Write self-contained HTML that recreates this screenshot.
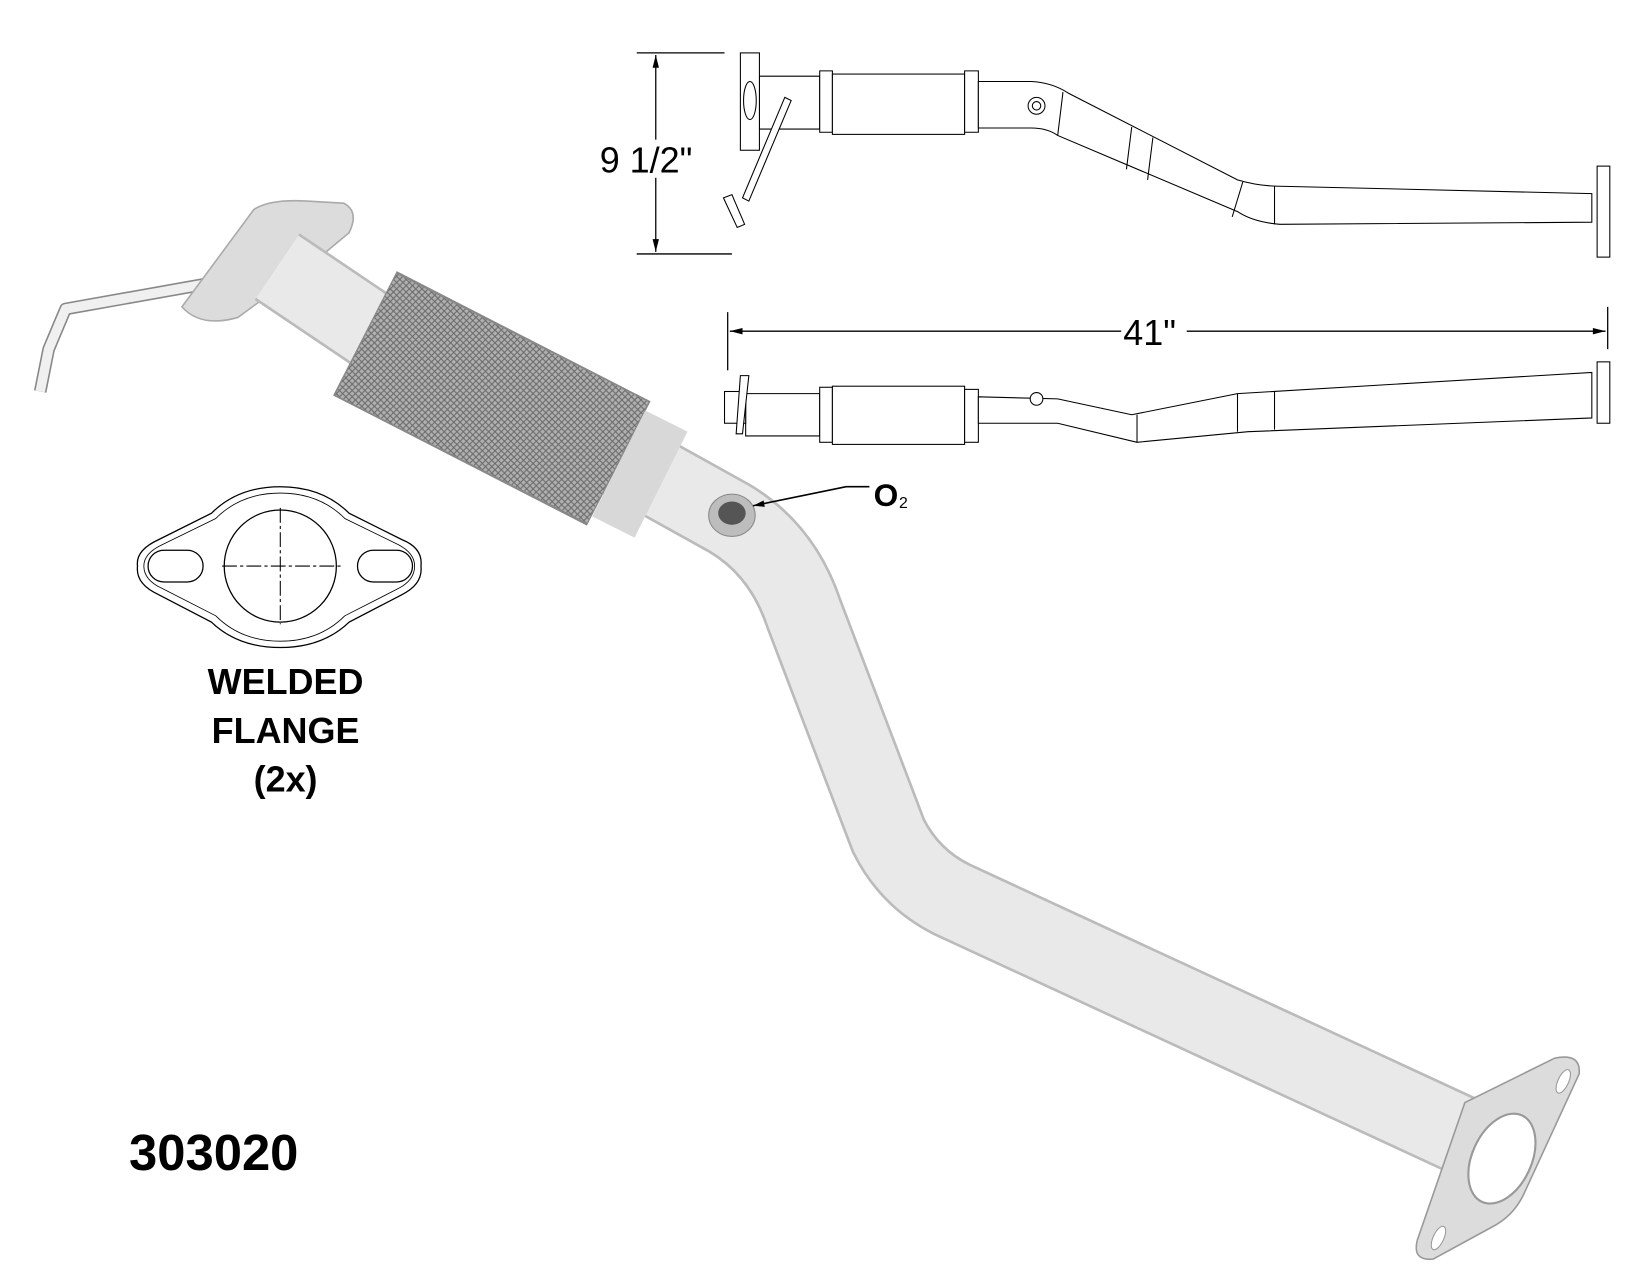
<!DOCTYPE html>
<html><head><meta charset="utf-8"><style>
html,body{margin:0;padding:0;background:#fff;width:1650px;height:1275px;overflow:hidden}
svg{display:block}
text{font-family:"Liberation Sans",Arial,sans-serif}
</style></head><body>
<svg width="1650" height="1275" viewBox="0 0 1560 1205" preserveAspectRatio="none" xmlns="http://www.w3.org/2000/svg">
<defs>
<pattern id="mesh" width="6" height="6" patternUnits="userSpaceOnUse">
<rect width="6" height="6" fill="#b0b0b0"/>
<path d="M0 0L6 6M6 0L0 6" stroke="#6a6a6a" stroke-width="1"/>
</pattern>
</defs>
<!-- dimension 9 1/2 -->
<g stroke="#000" stroke-width="1.2" fill="none">
<line x1="602" y1="50" x2="685" y2="50"/>
<line x1="602" y1="240" x2="692" y2="240"/>
<line x1="620" y1="52" x2="620" y2="238"/>
</g>
<path d="M620 52l-3 12h6zM620 238l-3-12h6z" fill="#000"/>
<rect x="568" y="132" width="96" height="36" fill="#fff"/>
<text x="567" y="163" font-size="34">9 1/2"</text>
<!-- top view pipe -->
<g stroke="#000" stroke-width="1" fill="#fff">
<path d="M718 72L775 72 775 122 718 122z"/>
<path d="M775 67h12v58h-12z"/>
<rect x="787" y="70" width="125" height="57"/>
<path d="M912 67h13v58h-13z"/>
<path d="M925 77 L975 77 Q995 78 1010 88 L1170 170 Q1190 176 1210 176 L1505 183 L1505 210 L1210 212 Q1185 210 1170 200 L1000 128 Q990 121 975 121 L925 121 Z"/>
<path d="M1005 87 L1000 128 M1070 120 L1065 160 M1090 130 L1085 170 M1175 172 L1165 205 M1205 176 L1205 212"/>
<rect x="1510" y="157" width="12" height="86"/>
<rect x="700" y="50" width="18" height="92"/>
<ellipse cx="709" cy="95" rx="6" ry="18"/>
<path d="M742 92L748 95 708 190 702 187z"/>
<path d="M684 187l8-3 12 28-7 3z"/>
<circle cx="980" cy="100" r="8"/><circle cx="980" cy="100" r="4"/>
</g>
<!-- 41 dim -->
<g stroke="#000" stroke-width="1.2">
<line x1="688" y1="295" x2="688" y2="350"/>
<line x1="1520" y1="290" x2="1520" y2="330"/>
<line x1="690" y1="313" x2="1060" y2="313"/>
<line x1="1122" y1="313" x2="1518" y2="313"/>
</g>
<path d="M690 313l12-3v6zM1518 313l-12-3v6z" fill="#000"/>
<text x="1062" y="326" font-size="34">41"</text>
<!-- side view -->
<g stroke="#000" stroke-width="1" fill="#fff">
<path d="M705 372h70v40h-70z"/>
<rect x="775" y="366" width="12" height="52"/>
<rect x="787" y="365" width="125" height="55"/>
<rect x="912" y="368" width="13" height="50"/>
<path d="M925 375L1000 377 1070 392 1170 372 1505 352 1505 395 1180 408 1075 418 1000 400 925 400z"/>
<path d="M1075 392 L1075 418 M1170 372 L1170 408 M1205 370 L1205 406"/>
<rect x="1510" y="342" width="12" height="58"/>
<rect x="685" y="370" width="20" height="30"/>
<path d="M700 355h8l-6 55h-6z"/>
<circle cx="980" cy="377" r="6"/>
</g>
<!-- rod top-left -->
<path d="M38 370L46 330 62 292 315 247" stroke="#888" stroke-width="12" fill="none" stroke-linejoin="round"/>
<path d="M38 370L46 330 62 292 315 247" stroke="#f0f0f0" stroke-width="9" fill="none" stroke-linejoin="round"/>
<!-- top flange -->
<path d="M172 290L240 198 Q255 188 290 190 L325 192 Q340 200 330 220 L300 245 225 300 Q190 310 172 290z" fill="#dcdcdc" stroke="#aaa" stroke-width="1.5"/>
<!-- main pipe -->
<path d="M262 252L360 318 L600 440 L690 490 Q740 520 760 580 L840 790 Q860 830 900 850 L1430 1095" stroke="#bbb" stroke-width="76" fill="none" stroke-linejoin="round"/>
<path d="M262 252L360 318 L600 440 L690 490 Q740 520 760 580 L840 790 Q860 830 900 850 L1430 1095" stroke="#e9e9e9" stroke-width="71" fill="none" stroke-linejoin="round"/>
<!-- flex -->
<path d="M345 315L585 438" stroke="#888" stroke-width="132" fill="none"/>
<path d="M346 316L584 437" stroke="url(#mesh)" stroke-width="128" fill="none"/>
<path d="M585 438L625 458" stroke="#d8d8d8" stroke-width="112" fill="none"/>
<!-- O2 boss -->
<ellipse cx="692" cy="487" rx="22" ry="20" fill="#bdbdbd" stroke="#888"/>
<ellipse cx="692" cy="485" rx="13" ry="11" fill="#555"/>
<path d="M712 478L800 460H822" stroke="#000" stroke-width="1.5" fill="none"/>
<path d="M712 478l10-5 1 6z" fill="#000"/>
<text x="826" y="478" font-size="30" font-weight="bold">O</text>
<text x="850" y="480" font-size="15">2</text>
<!-- end flange -->
<path d="M1385 1042L1470 1000 Q1495 995 1493 1015 L1440 1130 Q1430 1150 1410 1160 L1355 1190 Q1335 1192 1340 1172z" fill="#dcdcdc" stroke="#999" stroke-width="1.5"/>
<ellipse cx="1420" cy="1095" rx="28" ry="45" transform="rotate(25 1420 1095)" fill="#fff" stroke="#999" stroke-width="2"/>
<ellipse cx="1478" cy="1022" rx="5" ry="12" transform="rotate(25 1478 1022)" fill="#fff" stroke="#999"/>
<ellipse cx="1360" cy="1170" rx="5" ry="12" transform="rotate(25 1360 1170)" fill="#fff" stroke="#999"/>
<!-- welded flange drawing -->
<g fill="#fff" stroke="#000" stroke-width="1.2">
<path d="M265 460 Q225 460 200 485 L150 510 Q128 520 130 535 Q128 552 150 562 L200 588 Q225 612 265 612 Q305 612 330 588 L380 562 Q400 552 398 535 Q400 518 380 510 L330 485 Q305 460 265 460z"/>
<path d="M265 466 Q228 466 204 490 L153 515 Q136 523 136 535 Q136 548 153 556 L204 582 Q228 606 265 606 Q302 606 326 582 L377 556 Q392 548 392 535 Q392 523 377 515 L326 490 Q302 466 265 466z" stroke-width="0.8"/>
<circle cx="265" cy="535" r="53"/>
<rect x="140" y="520" width="52" height="30" rx="15"/>
<rect x="338" y="520" width="52" height="30" rx="15"/>
</g>
<g stroke="#000" stroke-width="1" stroke-dasharray="14 3 3 3">
<line x1="210" y1="535" x2="322" y2="535"/>
<line x1="265" y1="480" x2="265" y2="590"/>
</g>
<g font-weight="bold" font-size="34" text-anchor="middle">
<text x="270" y="656">WELDED</text>
<text x="270" y="702">FLANGE</text>
<text x="270" y="748">(2x)</text>
</g>
<text x="122" y="1106" font-size="48" font-weight="bold">303020</text>
</svg>
</body></html>
